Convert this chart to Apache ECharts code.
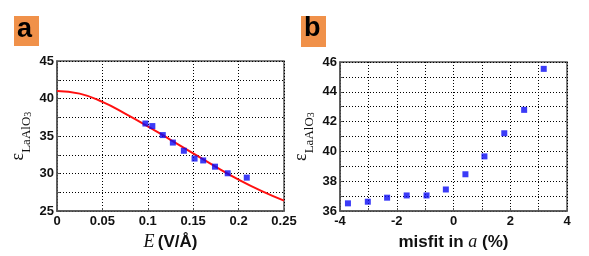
<!DOCTYPE html>
<html>
<head>
<meta charset="utf-8">
<script src="https://cdn.jsdelivr.net/npm/echarts@6/dist/echarts.min.js"></script>
<style>
html,body{margin:0;padding:0;background:#fff;}
#c{width:589px;height:256px;}
</style>
</head>
<body>
<div id="c"></div>
<script>
// Panel a: measured points
const fieldE = [0.0974, 0.105, 0.1165, 0.1276, 0.1397, 0.1515, 0.161, 0.174, 0.188, 0.209];
const epsA = [36.67, 36.33, 35.13, 34.13, 33.04, 32.0, 31.75, 30.92, 30.04, 29.46];
// Panel a: fitted curve
const fitE = [0, 0.025, 0.05, 0.075, 0.1, 0.125, 0.15, 0.175, 0.2, 0.225, 0.25];
const fitEps = [41.0, 40.65, 39.55, 38.0, 36.3, 34.5, 32.7, 30.9, 29.2, 27.7, 26.4];
// Panel b: misfit
const misfit = [-3.72, -3.02, -2.34, -1.65, -0.95, -0.27, 0.42, 1.09, 1.79, 2.49, 3.18];
const epsB = [36.52, 36.63, 36.9, 37.05, 37.05, 37.45, 38.47, 39.67, 41.22, 42.79, 45.54];
// Tick settings
const xTicksA = [0, 0.25, 0.05];
const yTicksA = [25, 45, 2.5];
const xTicksB = [-4, 4, 1];
const yTicksB = [36, 46, 1];
const panelLabels = ['a', 'b'];

const chart = echarts.init(document.getElementById('c'), null, {renderer: 'canvas'});
const frame = '#555';
const sans = 'Liberation Sans, Arial, sans-serif';
const serif = 'Liberation Serif, Times New Roman, serif';
const lblStyle = {color: '#111', fontFamily: sans, fontWeight: 'bold', fontSize: 13};
const gridLine = {show: true, lineStyle: {color: '#000', width: 1, type: [1, 2]}};
const tick = {show: true, inside: true, length: 3, lineStyle: {color: frame}};
const axLine = {show: true, onZero: false, lineStyle: {color: frame, width: 1.5}};

function fmtA(v){ return String(Math.round(v*100)/100); }
const yName = '{e|ε}{s|LaAlO}{t|3}';
const yRich = {
  e: {fontFamily: serif, fontSize: 18, color: '#111', verticalAlign: 'top', lineHeight: 24},
  s: {fontFamily: serif, fontSize: 13, color: '#111', verticalAlign: 'bottom', lineHeight: 24, padding:[7,0,0,0]},
  t: {fontFamily: serif, fontSize: 10, color: '#111', verticalAlign: 'bottom', lineHeight: 24, padding:[9,0,0,0]}
};

const option = {
  animation: false,
  backgroundColor: '#fff',
  grid: [
    {left: 57, top: 61, width: 227, height: 158, show: true, borderColor: frame, borderWidth: 1.5, backgroundColor: '#fff'},
    {left: 340, top: 62, width: 227, height: 159, show: true, borderColor: frame, borderWidth: 1.5, backgroundColor: '#fff'}
  ],
  xAxis: [
    {gridIndex: 0, type: 'value', min: xTicksA[0], max: xTicksA[1], interval: xTicksA[2],
     axisLine: axLine, axisTick: tick, splitLine: gridLine,
     axisLabel: Object.assign({margin: 4, formatter: fmtA}, lblStyle),
     name: '{i|E} {b|(V/Å)}', nameLocation: 'middle', nameGap: 19,
     nameTextStyle: {rich: {i: {fontFamily: serif, fontStyle: 'italic', fontSize: 18, color: '#111'},
                            b: {fontFamily: sans, fontWeight: 'bold', fontSize: 17, color: '#111'}}}},
    {gridIndex: 1, type: 'value', min: xTicksB[0], max: xTicksB[1], interval: xTicksB[2],
     axisLine: axLine, axisTick: tick, splitLine: gridLine,
     axisLabel: Object.assign({margin: 4, formatter: v => (Math.round(v) % 2 === 0 ? String(Math.round(v)) : '')}, lblStyle),
     name: '{b|misfit in }{i|a}{b| (%)}', nameLocation: 'middle', nameGap: 17,
     nameTextStyle: {rich: {i: {fontFamily: serif, fontStyle: 'italic', fontSize: 18, color: '#111'},
                            b: {fontFamily: sans, fontWeight: 'bold', fontSize: 17, color: '#111'}}}}
  ],
  yAxis: [
    {gridIndex: 0, type: 'value', min: yTicksA[0], max: yTicksA[1], interval: yTicksA[2],
     axisLine: axLine, axisTick: tick, splitLine: gridLine,
     axisLabel: Object.assign({margin: 3, formatter: v => (v % 5 === 0 ? String(v) : '')}, lblStyle),
     name: yName, nameLocation: 'middle', nameGap: 24, nameRotate: 90,
     nameTextStyle: {rich: yRich}},
    {gridIndex: 1, type: 'value', min: yTicksB[0], max: yTicksB[1], interval: yTicksB[2],
     axisLine: axLine, axisTick: tick, splitLine: gridLine,
     axisLabel: Object.assign({margin: 3, formatter: v => (v % 2 === 0 ? String(v) : '')}, lblStyle),
     name: yName, nameLocation: 'middle', nameGap: 24, nameRotate: 90,
     nameTextStyle: {rich: yRich}}
  ],
  series: [
    {type: 'line', xAxisIndex: 0, yAxisIndex: 0, smooth: true, showSymbol: false,
     data: fitE.map((x, i) => [x, fitEps[i]]),
     lineStyle: {color: '#ff1010', width: 2}, itemStyle: {color: '#ff1010'}, z: 3},
    {type: 'scatter', xAxisIndex: 0, yAxisIndex: 0, symbol: 'rect', symbolSize: 6,
     data: fieldE.map((x, i) => [x, epsA[i]]), itemStyle: {color: '#0a0af5'}, z: 4},
    {type: 'scatter', xAxisIndex: 1, yAxisIndex: 1, symbol: 'rect', symbolSize: 6,
     data: misfit.map((x, i) => [x, epsB[i]]), itemStyle: {color: '#0a0af5'}, z: 4}
  ],
  graphic: [
    {type: 'rect', left: 14, top: 16, shape: {width: 25, height: 30}, style: {fill: '#f0914a'}},
    {type: 'text', left: 17, top: 16, style: {text: panelLabels[0], font: 'bold 27px ' + sans, fill: '#000'}},
    {type: 'rect', left: 301, top: 16, shape: {width: 25, height: 31}, style: {fill: '#f0914a'}},
    {type: 'text', left: 304, top: 15, style: {text: panelLabels[1], font: 'bold 27px ' + sans, fill: '#000'}}
  ]
};
chart.setOption(option);
</script>
</body>
</html>
